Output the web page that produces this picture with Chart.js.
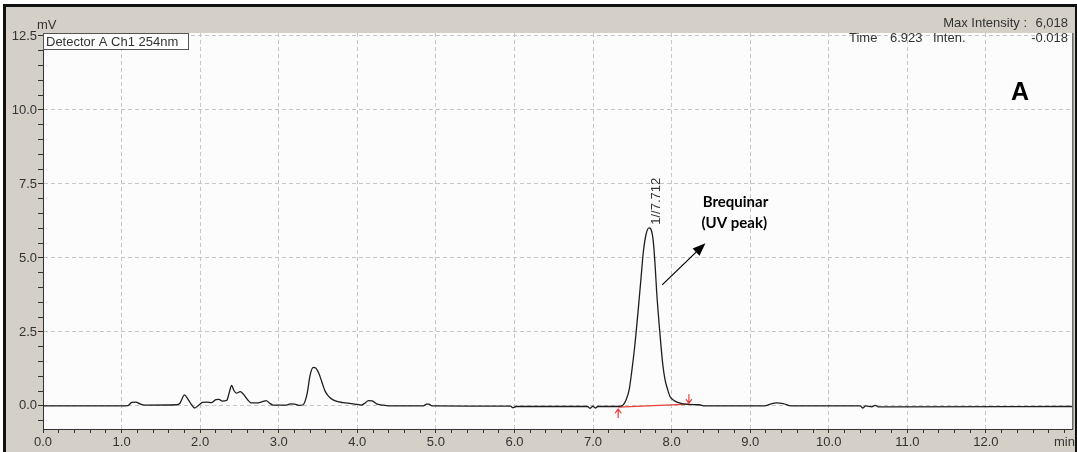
<!DOCTYPE html>
<html>
<head>
<meta charset="utf-8">
<title>Detector A Ch1 254nm</title>
<script src="https://cdn.jsdelivr.net/npm/chart.js@4.4.0/dist/chart.umd.min.js"></script>
<style>
  html, body { margin: 0; padding: 0; background: #fff; }
  canvas { display: block; }
</style>
</head>
<body>
<canvas id="cromatograma" width="1077" height="452"></canvas>
<script>
// detector trace, retention time (min) / signal (mV)
const retTime = [
    0.00, 1.00, 1.08, 1.13, 1.18, 1.24, 1.30, 1.70, 1.74, 1.78,
    1.80, 1.84, 1.89, 1.93, 1.98, 2.03, 2.09, 2.14, 2.20, 2.24,
    2.28, 2.34, 2.37, 2.40, 2.43, 2.46, 2.51, 2.55, 2.60, 2.65,
    2.72, 2.80, 2.84, 2.88, 2.93, 3.10, 3.15, 3.20, 3.26, 3.31,
    3.36, 3.40, 3.44, 3.47, 3.51, 3.55, 3.59, 3.63, 3.68, 3.74,
    3.82, 3.92, 4.00, 4.05, 4.10, 4.14, 4.19, 4.24, 4.32, 4.40,
    4.84, 4.88, 4.91, 4.95, 5.95, 5.98, 6.02, 6.93, 6.96, 7.00,
    7.03, 7.06, 7.30, 7.365, 7.42, 7.46, 7.49, 7.53, 7.576, 7.61,
    7.64, 7.675, 7.712, 7.74, 7.767, 7.79, 7.81, 7.84, 7.865, 7.89,
    7.916, 7.95, 7.98, 8.03, 8.085, 8.21, 8.35, 8.42, 9.18, 9.26,
    9.33, 9.42, 9.52, 10.40, 10.43, 10.47, 10.55, 10.59, 10.63, 13.10
];
const signal = [
    0.00, 0.00, 0.01, 0.12, 0.13, 0.06, 0.03, 0.04, 0.08, 0.30,
    0.37, 0.25, 0.04, -0.07, 0.02, 0.12, 0.13, 0.11, 0.21, 0.22,
    0.16, 0.19, 0.45, 0.69, 0.52, 0.43, 0.48, 0.40, 0.22, 0.10,
    0.10, 0.15, 0.18, 0.10, 0.03, 0.03, 0.07, 0.06, 0.02, 0.04,
    0.40, 1.05, 1.30, 1.28, 1.10, 0.80, 0.50, 0.34, 0.22, 0.15,
    0.11, 0.08, 0.05, 0.03, 0.10, 0.18, 0.17, 0.08, 0.03, 0.00,
    0.00, 0.06, 0.06, 0.00, -0.01, -0.06, -0.02, -0.02, -0.08, -0.01,
    -0.07, -0.02, -0.02, 0.00, 0.20, 0.55, 1.11, 2.00, 3.28, 4.30,
    5.20, 5.80, 6.018, 5.95, 5.55, 4.75, 3.85, 2.80, 2.02, 1.35,
    0.89, 0.55, 0.32, 0.18, 0.11, 0.05, 0.04, 0.00, 0.00, 0.06,
    0.10, 0.08, 0.00, 0.00, -0.07, 0.00, -0.03, 0.02, -0.03, -0.02
];

// integration baseline under the main peak
const integTime = [7.32, 8.22];
const integSignal = [-0.04, 0.06];

const peakTimes = [7.712];
const peakHeights = [6.018];
const peakLabels = ['1//7.712'];

const xTickLabels = ['0.0', '1.0', '2.0', '3.0', '4.0', '5.0', '6.0', '7.0',
    '8.0', '9.0', '10.0', '11.0', '12.0', 'min'];
const yTickLabels = ['0.0', '2.5', '5.0', '7.5', '10.0', '12.5'];

const corTexto = '#333';
const fonteEixo = { family: 'Liberation Sans, Arial, sans-serif', size: 13 };

function paresXY(xs, ys) {
    return xs.map((x, i) => ({ x: x, y: ys[i] }));
}

function ticksDe(passo, ini, fim) {
    const out = [];
    const n = Math.round((fim - ini) / passo);
    for (let i = 0; i <= n; i++) out.push({ value: +(ini + i * passo).toFixed(3) });
    return out;
}

function ehInteiro(v) {
    return Math.abs(v - Math.round(v)) < 1e-6;
}

function seta(ctx, x1, y1, x2, y2, comp, larg) {
    const ang = Math.atan2(y2 - y1, x2 - x1);
    ctx.beginPath();
    ctx.moveTo(x1, y1);
    ctx.lineTo(x2 - Math.cos(ang) * comp * 0.8, y2 - Math.sin(ang) * comp * 0.8);
    ctx.stroke();
    ctx.beginPath();
    ctx.moveTo(x2, y2);
    ctx.lineTo(x2 - Math.cos(ang) * comp + Math.sin(ang) * larg / 2,
               y2 - Math.sin(ang) * comp - Math.cos(ang) * larg / 2);
    ctx.lineTo(x2 - Math.cos(ang) * comp - Math.sin(ang) * larg / 2,
               y2 - Math.sin(ang) * comp + Math.cos(ang) * larg / 2);
    ctx.closePath();
    ctx.fill();
}

const moldura = {
    id: 'moldura',
    beforeDraw(chart) {
        const { ctx, chartArea: a, width, height } = chart;
        ctx.save();
        ctx.fillStyle = '#fff';
        ctx.fillRect(0, 0, width, height);
        ctx.fillStyle = '#111';
        ctx.fillRect(3, 4, width - 3, 3);
        ctx.fillRect(3, 4, 3, height - 4);
        ctx.fillRect(width - 2, 4, 2, height - 4);
        ctx.fillStyle = '#d4d0c8';
        ctx.fillRect(6, 7, width - 8, height - 7);
        ctx.fillStyle = '#fcfcfc';
        ctx.fillRect(a.left, a.top, a.right - a.left, a.bottom - a.top);
        ctx.restore();
    },
    afterDatasetsDraw(chart) {
        const { ctx, chartArea: a } = chart;
        ctx.save();
        ctx.strokeStyle = '#333';
        ctx.lineWidth = 1;
        ctx.beginPath();
        ctx.moveTo(a.right + 0.5, a.top);
        ctx.lineTo(a.right + 0.5, a.bottom);
        ctx.stroke();

        // start / end marks of the integration baseline
        const pts = chart.getDatasetMeta(1).data;
        ctx.strokeStyle = '#e8403c';
        ctx.lineWidth = 1.2;
        const marca = (x, yBase, yPonta) => {
            const d = yPonta < yBase ? -1 : 1;
            ctx.beginPath();
            ctx.moveTo(x, yBase);
            ctx.lineTo(x, yPonta);
            ctx.moveTo(x - 3, yPonta - d * 4);
            ctx.lineTo(x, yPonta);
            ctx.lineTo(x + 3, yPonta - d * 4);
            ctx.stroke();
        };
        marca(pts[0].x, pts[0].y + 11, pts[0].y + 2);
        marca(pts[1].x, pts[1].y - 10, pts[1].y - 1);
        ctx.restore();
    },
    afterDraw(chart) {
        const { ctx, chartArea: a, scales } = chart;
        ctx.save();
        ctx.font = '13px "Liberation Sans", Arial, sans-serif';
        ctx.fillStyle = corTexto;
        ctx.textBaseline = 'middle';

        ctx.textAlign = 'left';
        ctx.fillText('mV', 37, 25);

        // detector legend box
        ctx.fillStyle = '#fff';
        ctx.fillRect(a.left + 0.5, a.top + 0.5, 145, 16);
        ctx.strokeStyle = '#555';
        ctx.lineWidth = 1;
        ctx.strokeRect(a.left + 0.5, a.top + 0.5, 145, 16);
        ctx.fillStyle = corTexto;
        ctx.fillText('Detector A Ch1 254nm', a.left + 3, a.top + 9);

        ctx.textAlign = 'right';
        ctx.fillText('Max Intensity :', 1027, 23);
        ctx.fillText('6,018', 1068, 23);
        ctx.fillText('-0.018', 1068, 38);
        ctx.textAlign = 'left';
        ctx.fillText('Time', 849, 38);
        ctx.fillText('6.923', 890, 38);
        ctx.fillText('Inten.', 933, 38);

        ctx.font = 'bold 25px "Liberation Sans", Arial, sans-serif';
        ctx.fillStyle = '#000';
        ctx.textAlign = 'center';
        ctx.fillText('A', 1020, 93);

        // retention time labels, written upward from the apex
        ctx.font = '13px "Liberation Sans", Arial, sans-serif';
        ctx.fillStyle = corTexto;
        peakTimes.forEach((t, i) => {
            const px = scales.x.getPixelForValue(t);
            const py = scales.y.getPixelForValue(peakHeights[i]);
            ctx.save();
            ctx.translate(px + 7, py - 3);
            ctx.rotate(-Math.PI / 2);
            ctx.textAlign = 'left';
            ctx.fillText(peakLabels[i], 0, 0);
            ctx.restore();
        });

        // compound note with pointer
        ctx.fillStyle = '#000';
        ctx.strokeStyle = '#000';
        ctx.lineWidth = 1.2;
        const x = (v) => scales.x.getPixelForValue(v);
        const y = (v) => scales.y.getPixelForValue(v);
        seta(ctx, x(7.88), y(4.09), x(8.43), y(5.50), 13, 10);
        ctx.font = 'bold 15px Lato, "Liberation Sans", sans-serif';
        ctx.textAlign = 'left';
        ctx.fillText('Brequinar', x(8.395), y(6.87));
        ctx.fillText('(UV peak)', x(8.38), y(6.17));
        ctx.restore();
    }
};

const eixoComum = {
    type: 'linear',
    border: { display: true, color: '#333', width: 1, dash: [4, 3] },
    grid: {
        drawTicks: true,
        tickLength: 5,
        tickColor: '#333',
        tickWidth: 1,
        lineWidth: 1
    }
};

new Chart(document.getElementById('cromatograma').getContext('2d'), {
    type: 'line',
    data: {
        datasets: [{
            data: paresXY(retTime, signal),
            borderColor: '#1e1e1e',
            borderWidth: 1.3,
            pointRadius: 0,
            cubicInterpolationMode: 'monotone',
            fill: false
        }, {
            data: paresXY(integTime, integSignal),
            borderColor: '#e8403c',
            borderWidth: 1.3,
            pointRadius: 0,
            fill: false
        }]
    },
    options: {
        responsive: false,
        maintainAspectRatio: false,
        animation: false,
        devicePixelRatio: 1,
        layout: { padding: { top: 33, right: 4, left: 0, bottom: 0 } },
        plugins: {
            legend: { display: false },
            tooltip: { enabled: false }
        },
        scales: {
            x: {
                ...eixoComum,
                min: 0,
                max: 13.1,
                grid: {
                    ...eixoComum.grid,
                    tickLength: 4,
                    color: (c) => (c.tick && ehInteiro(c.tick.value) && c.tick.value < 12.5) ? '#c6c6c6' : 'rgba(0,0,0,0)'
                },
                afterBuildTicks: (scale) => { scale.ticks = ticksDe(0.2, 0, 13.0); },
                afterFit: (scale) => { scale.height = 23; },
                ticks: {
                    autoSkip: false,
                    maxRotation: 0,
                    minRotation: 0,
                    padding: 2,
                    color: corTexto,
                    font: fonteEixo,
                    callback: (v) => ehInteiro(v) ? (xTickLabels[Math.round(v)] || '') : ''
                }
            },
            y: {
                ...eixoComum,
                min: -0.78,
                max: 12.6,
                grid: {
                    ...eixoComum.grid,
                    color: (c) => (c.tick && c.tick.value >= 0 && ehInteiro(c.tick.value / 2.5)) ? '#c6c6c6' : 'rgba(0,0,0,0)'
                },
                afterBuildTicks: (scale) => { scale.ticks = ticksDe(0.5, -0.5, 12.5); },
                afterFit: (scale) => { scale.width = 43; },
                ticks: {
                    autoSkip: false,
                    padding: 1,
                    color: corTexto,
                    font: fonteEixo,
                    callback: (v) => (v >= 0 && ehInteiro(v / 2.5)) ? (yTickLabels[Math.round(v / 2.5)] || '') : ''
                }
            }
        }
    },
    plugins: [moldura]
});
</script>
</body>
</html>
